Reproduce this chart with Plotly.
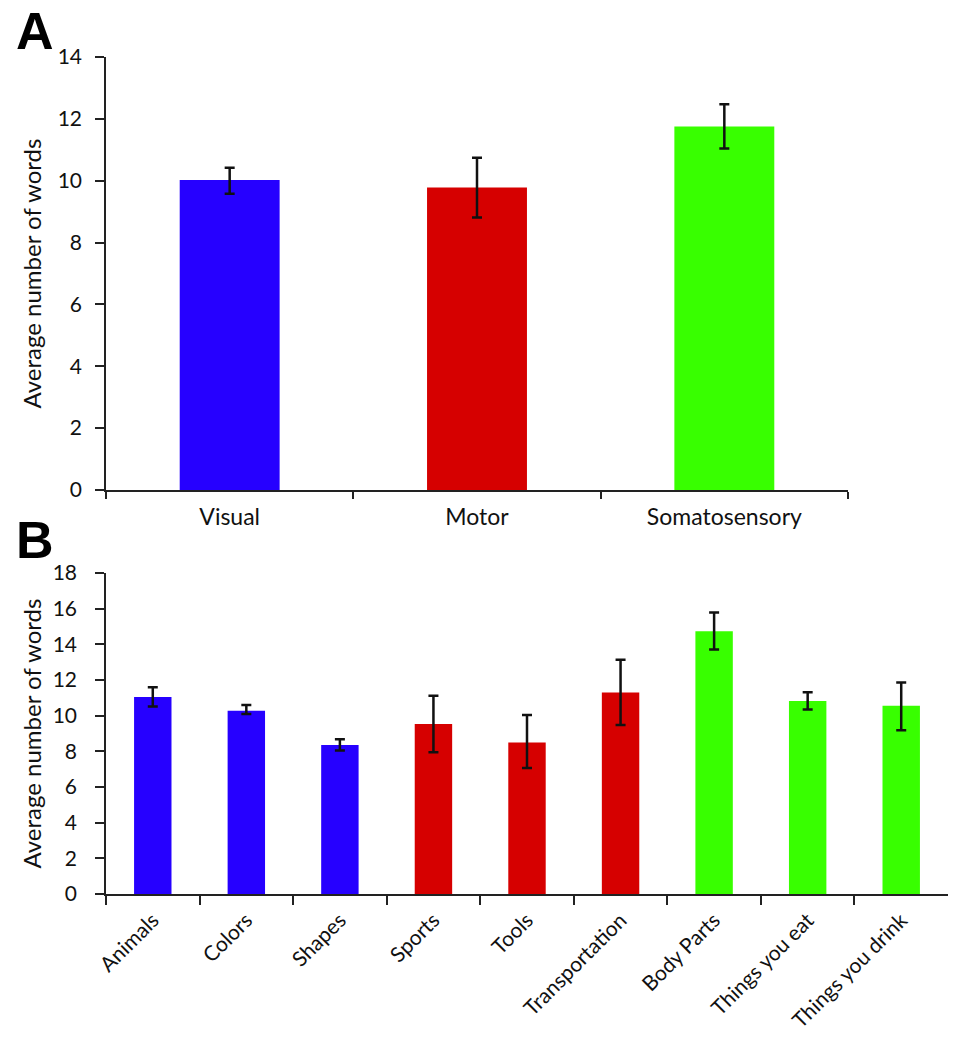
import plotly.graph_objects as go

# panel A: modality categories
modality = ["Visual", "Motor", "Somatosensory"]
modality_mean = [10.02, 9.78, 11.75]
modality_err_up = [0.40, 0.96, 0.72]
modality_err_down = [0.44, 0.97, 0.71]

# panel B: semantic categories
category = ["Animals", "Colors", "Shapes", "Sports", "Tools", "Transportation",
            "Body Parts", "Things you eat", "Things you drink"]
category_mean = [11.04, 10.28, 8.36, 9.53, 8.49, 11.30, 14.73, 10.82, 10.56]
category_err_up = [0.56, 0.32, 0.32, 1.59, 1.55, 1.83, 1.06, 0.50, 1.30]
category_err_down = [0.52, 0.19, 0.32, 1.58, 1.43, 1.82, 1.02, 0.47, 1.38]

BLUE, RED, GREEN = "#2600ff", "#d60000", "#38ff00"
modality_colors = [BLUE, RED, GREEN]
category_colors = [BLUE] * 3 + [RED] * 3 + [GREEN] * 3

W, H = 966, 1050
FONT = "Lato, 'Open Sans', sans-serif"
INK = "#111"


def px_x(a, b):
    return [a / W, b / W]


def px_y(top, bottom):
    return [1 - bottom / H, 1 - top / H]


fig = go.Figure()
fig.add_trace(go.Bar(
    x=modality, y=modality_mean, marker_color=modality_colors,
    marker_line_width=0, width=0.404,
    error_y=dict(type="data", symmetric=False, array=modality_err_up,
                 arrayminus=modality_err_down, color=INK,
                 thickness=2.5, width=5),
    xaxis="x", yaxis="y", showlegend=False))
fig.add_trace(go.Bar(
    x=category, y=category_mean, marker_color=category_colors,
    marker_line_width=0, width=0.40,
    error_y=dict(type="data", symmetric=False, array=category_err_up,
                 arrayminus=category_err_down, color=INK,
                 thickness=2.5, width=5),
    xaxis="x2", yaxis="y2", showlegend=False))

_axis = dict(showline=True, linecolor="#222", linewidth=1.6, showgrid=False,
             zeroline=False, ticks="outside", tickcolor="#222", tickwidth=1.6,
             automargin=False)

fig.update_layout(
    width=W, height=H, margin=dict(l=0, r=0, t=0, b=0),
    paper_bgcolor="white", plot_bgcolor="white",
    font=dict(family=FONT, color=INK),
    xaxis=dict(_axis, domain=px_x(106, 848), anchor="y", tickson="boundaries",
               ticklen=7, ticklabelstandoff=6, tickfont=dict(size=23, color=INK)),
    yaxis=dict(_axis, domain=px_y(57, 490), anchor="x", range=[0, 14], dtick=2,
               ticklen=9, ticklabelstandoff=9, tickfont=dict(size=21, color=INK)),
    xaxis2=dict(_axis, domain=px_x(106, 948), anchor="y2", tickson="boundaries",
                ticklen=9, tickangle=-45, ticklabelstandoff=4,
                tickfont=dict(size=21, color=INK)),
    yaxis2=dict(_axis, domain=px_y(573, 894), anchor="x2", range=[0, 18], dtick=2,
                ticklen=9, ticklabelstandoff=14, tickfont=dict(size=21, color=INK)),
)

# panel letters
for letter, yc in (("A", 31), ("B", 540)):
    fig.add_annotation(text=letter, x=35 / W, y=1 - yc / H, xref="paper", yref="paper",
                       xanchor="center", yanchor="middle", showarrow=False,
                       font=dict(family="Liberation Sans, Arial", size=52, color="black",
                                 weight="bold"))

# y-axis titles, centred on each plot area
for yc in (273.5, 733.5):
    fig.add_annotation(text="Average number of words", x=31 / W, y=1 - yc / H,
                       xref="paper", yref="paper", textangle=-90, showarrow=False,
                       xanchor="center", yanchor="middle",
                       font=dict(family=FONT, size=24, color=INK))

fig.write_html("out.html", config={"displayModeBar": False},
               post_script="document.body.style.margin='0px';")
